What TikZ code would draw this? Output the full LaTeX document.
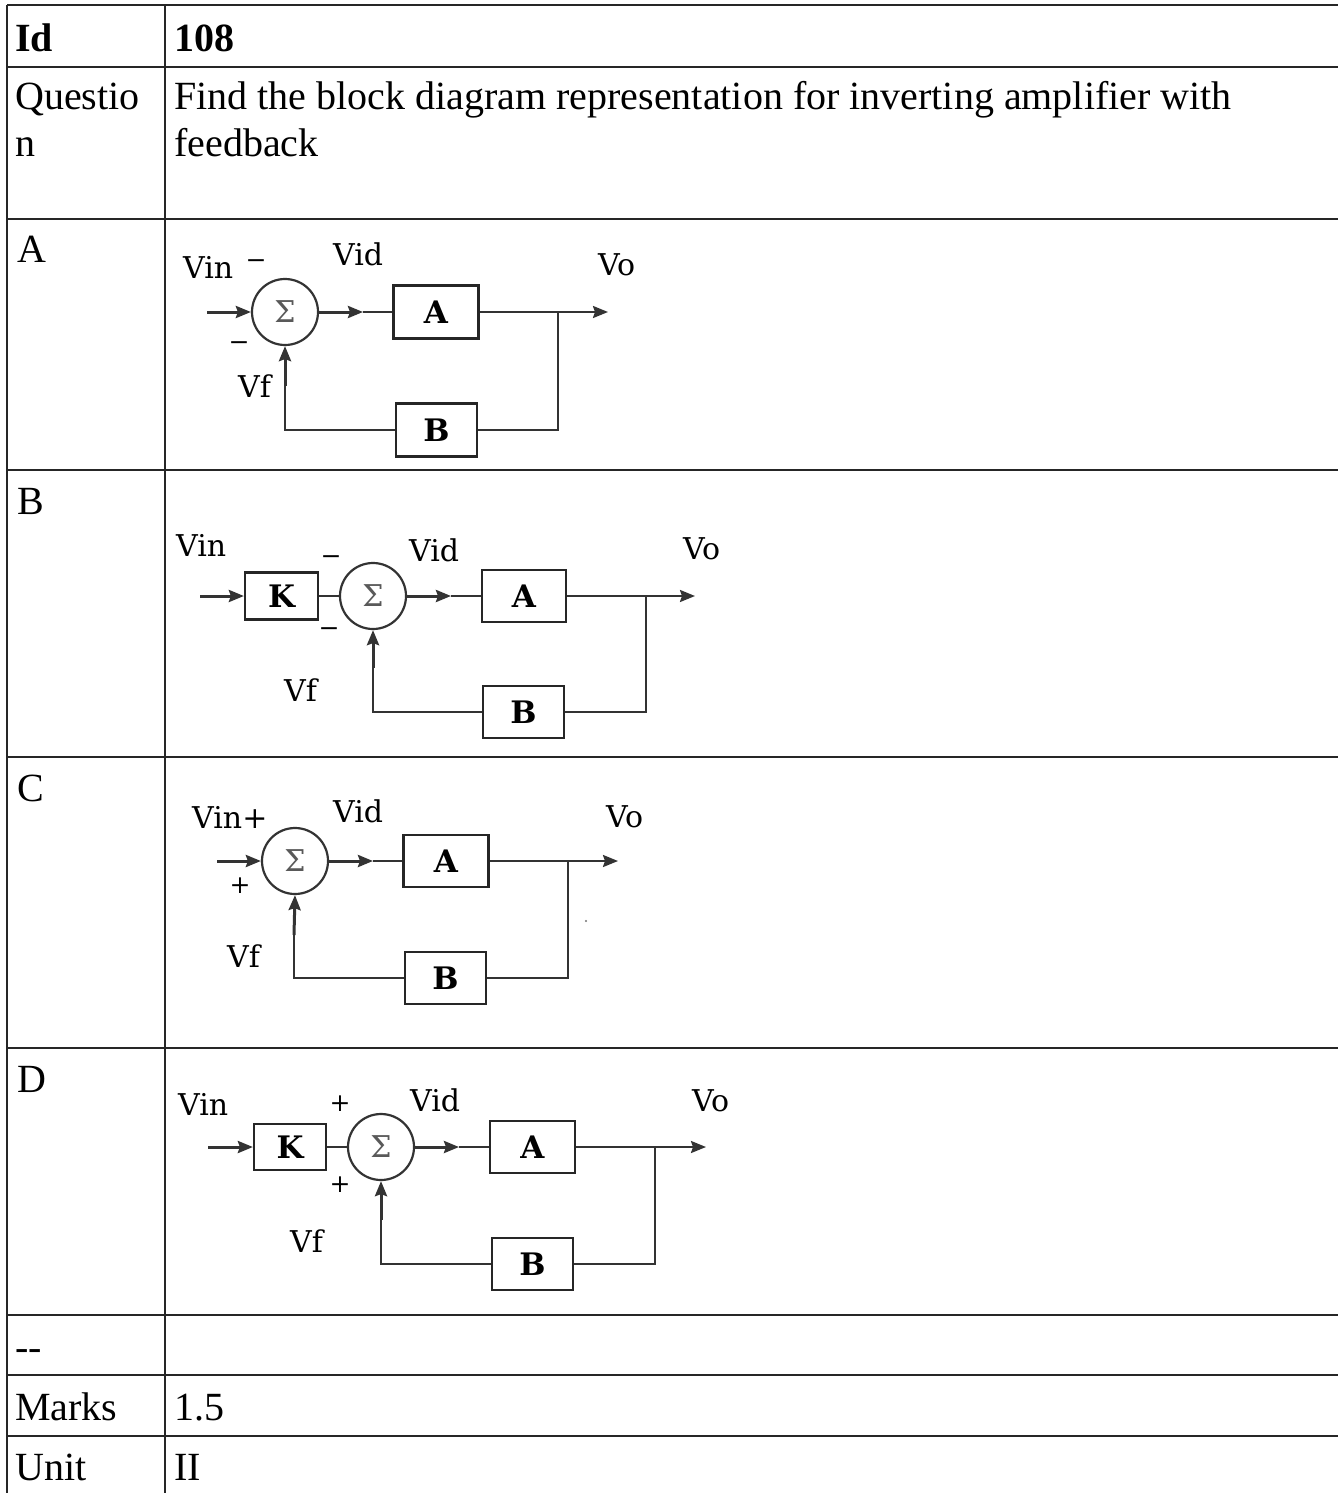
\documentclass[tikz,border=0pt]{standalone}
\usepackage{fontspec}
\setmainfont{Liberation Serif}
\newfontfamily\djfont{DejaVu Serif}
\usetikzlibrary{arrows.meta}
\tikzset{
  >={Stealth[length=15pt,width=12pt,inset=2pt]},
  txt/.style={anchor=base west, inner sep=0pt, font=\fontsize{40}{46}\selectfont},
  rule/.style={draw=black!85, line width=1.4pt},
  wire/.style={draw=black!80, line width=2.2pt},
  fat/.style={draw=black!80, line width=3pt},
  blk/.style={draw=black!85, line width=2.2pt, inner sep=0pt, font=\fontsize{31}{36}\djfont\bfseries},
  sumn/.style={circle, draw=black!80, line width=2.2pt, minimum size=66pt, inner sep=0pt, font=\fontsize{30}{36}\djfont\color{black!65}},
  lbl/.style={anchor=base west, inner sep=0pt, font=\fontsize{30}{36}\djfont},
  sgn/.style={inner sep=0pt, font=\fontsize{25}{28}\djfont},
}
\begin{document}
\begin{tikzpicture}[x=1pt,y=-1pt]
\useasboundingbox (0,0) rectangle (1338,1493);
\fill[white] (0,0) rectangle (1338,1493);
% ---------- table rules ----------
\foreach \yy in {5,67,219,470,757,1048,1315,1375,1436}
  \draw[rule] (7,\yy) -- (1338,\yy);
\draw[rule] (7,5) -- (7,1493);
\draw[rule] (165,5) -- (165,1493);
% ---------- table text ----------
\node[txt] (tid) at (15,52) {\bfseries Id};
\node[txt] (tidv) at (174,52) {\bfseries 108};
\node[txt] (tq1) at (15,110) {Questio};
\node[txt] (tq2) at (15,157) {n};
\node[txt] (tqv1) at (174,110) {Find the block diagram representation for inverting amplifier with};
\node[txt] (tqv2) at (174,157) {feedback};
\node[txt] (tA) at (17,262) {A};
\node[txt] (tB) at (17,514) {B};
\node[txt] (tC) at (17,801) {C};
\node[txt] (tD) at (17,1092) {D};
\node[txt] (tdash) at (15,1360) {-{}-};
\node[txt] (tm) at (15,1420) {Marks};
\node[txt] (tmv) at (174,1420) {1.5};
\node[txt] (tu) at (15,1480) {Unit};
\node[txt] (tuv) at (174,1480) {II};

% ---------- Diagram A ----------
\node[sumn] (sA) at (285,312) {Σ};
\node[blk, minimum width=85pt, minimum height=53pt] (aA) at (436,312) {A};
\node[blk, minimum width=81pt, minimum height=53pt] (bA) at (436.5,430) {B};
\coordinate (inA) at (207,312);
\coordinate (mA) at (363,312);
\coordinate (jA) at (558,312);
\coordinate (oA) at (608,312);
\coordinate (fA) at (285,386);
\draw[fat,->] (inA) -- (sA.west);
\draw[fat,->] (sA.east) -- (mA);
\draw[wire] (mA) -- (aA.west);
\draw[wire,->] (aA.east) -- (oA);
\draw[wire] (jA) |- (bA.east);
\draw[wire] (bA.west) -| (fA);
\draw[fat,->] (fA) -- (sA.south);
\node[lbl] (vinA) at (183,278) {Vin};
\node[sgn] (mA1) at (256,264) {−};
\node[sgn] (mA2) at (239,346) {−};
\node[lbl] (vidA) at (333,265) {Vid};
\node[lbl] (voA) at (598,275) {Vo};
\node[lbl] (vfA) at (238,397) {Vf};

% ---------- Diagram B ----------
\node[blk, minimum width=73pt, minimum height=47pt] (kB) at (281.5,596) {K};
\node[sumn] (sB) at (373,596) {Σ};
\node[blk, minimum width=84pt, minimum height=52pt] (aB) at (524,596) {A};
\node[blk, minimum width=81pt, minimum height=52pt] (bB) at (523.5,712) {B};
\coordinate (inB) at (200,596);
\coordinate (mB) at (451,596);
\coordinate (jB) at (646,596);
\coordinate (oB) at (695,596);
\coordinate (fB) at (373,668);
\draw[fat,->] (inB) -- (kB.west);
\draw[wire] (kB.east) -- (sB.west);
\draw[fat,->] (sB.east) -- (mB);
\draw[wire] (mB) -- (aB.west);
\draw[wire,->] (aB.east) -- (oB);
\draw[wire] (jB) |- (bB.east);
\draw[wire] (bB.west) -| (fB);
\draw[fat,->] (fB) -- (sB.south);
\node[lbl] (vinB) at (176,556) {Vin};
\node[sgn] (mB1) at (331,560) {−};
\node[sgn] (mB2) at (329,632) {−};
\node[lbl] (vidB) at (409,561) {Vid};
\node[lbl] (voB) at (683,559) {Vo};
\node[lbl] (vfB) at (284,701) {Vf};

% ---------- Diagram C ----------
\node[sumn] (sC) at (295,861) {Σ};
\node[blk, minimum width=85pt, minimum height=52pt] (aC) at (446,861) {A};
\node[blk, minimum width=81pt, minimum height=52pt] (bC) at (445.5,978) {B};
\coordinate (inC) at (217,861);
\coordinate (mC) at (373,861);
\coordinate (jC) at (568,861);
\coordinate (oC) at (618,861);
\coordinate (fC) at (294,935);
\draw[fat,->] (inC) -- (sC.west);
\draw[fat,->] (sC.east) -- (mC);
\draw[wire] (mC) -- (aC.west);
\draw[wire,->] (aC.east) -- (oC);
\draw[wire] (jC) |- (bC.east);
\draw[wire] (bC.west) -| (fC);
\draw[fat,->] (fC) -- (sC.south);
\node[lbl] (vinC) at (192,828) {Vin+};
\node[sgn] (pC) at (240,886) {+};
\node[lbl] (vidC) at (333,822) {Vid};
\node[lbl] (voC) at (606,827) {Vo};
\node[lbl] (vfC) at (227,967) {Vf};
\fill[black!55] (586,921) circle (1.1pt);

% ---------- Diagram D ----------
\node[blk, minimum width=72pt, minimum height=46pt] (kD) at (290,1147) {K};
\node[sumn] (sD) at (381,1147) {Σ};
\node[blk, minimum width=85pt, minimum height=52pt] (aD) at (532.5,1147) {A};
\node[blk, minimum width=81pt, minimum height=52pt] (bD) at (532.5,1264) {B};
\coordinate (inD) at (208,1147);
\coordinate (mD) at (459,1147);
\coordinate (jD) at (655,1147);
\coordinate (oD) at (706,1147);
\coordinate (fD) at (381,1220);
\draw[fat,->] (inD) -- (kD.west);
\draw[wire] (kD.east) -- (sD.west);
\draw[fat,->] (sD.east) -- (mD);
\draw[wire] (mD) -- (aD.west);
\draw[wire,->] (aD.east) -- (oD);
\draw[wire] (jD) |- (bD.east);
\draw[wire] (bD.west) -| (fD);
\draw[fat,->] (fD) -- (sD.south);
\node[lbl] (vinD) at (178,1115) {Vin};
\node[sgn] (pD1) at (340,1104) {+};
\node[sgn] (pD2) at (340,1185) {+};
\node[lbl] (vidD) at (410,1111) {Vid};
\node[lbl] (voD) at (692,1111) {Vo};
\node[lbl] (vfD) at (290,1252) {Vf};
\end{tikzpicture}
\end{document}
